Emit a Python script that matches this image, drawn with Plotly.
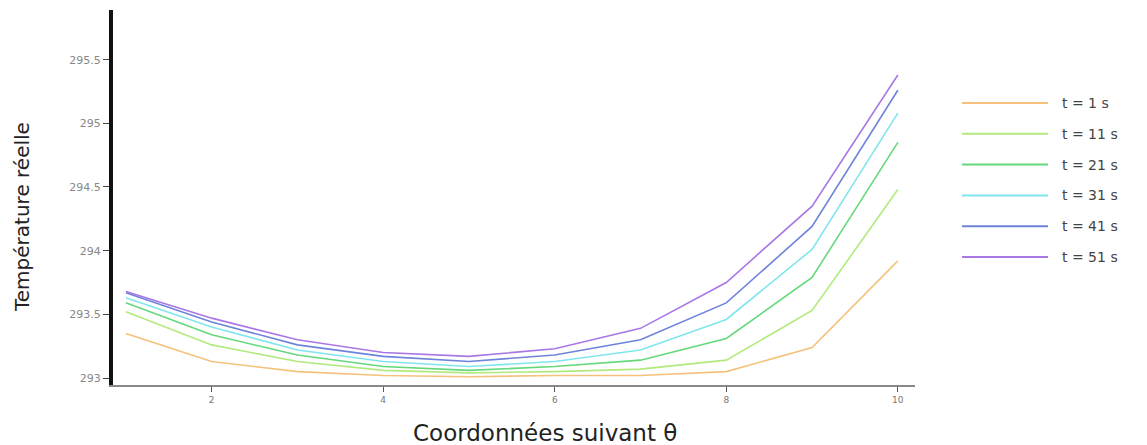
import plotly.graph_objects as go

x_coords = [1, 2, 3, 4, 5, 6, 7, 8, 9, 10]
series_names = ["t = 1 s", "t = 11 s", "t = 21 s", "t = 31 s", "t = 41 s", "t = 51 s"]
t1 = [293.35, 293.13, 293.05, 293.02, 293.01, 293.02, 293.02, 293.05, 293.24, 293.92]
t11 = [293.52, 293.26, 293.13, 293.06, 293.04, 293.05, 293.07, 293.14, 293.53, 294.48]
t21 = [293.59, 293.34, 293.18, 293.09, 293.06, 293.09, 293.14, 293.31, 293.79, 294.85]
t31 = [293.63, 293.40, 293.22, 293.13, 293.09, 293.13, 293.22, 293.46, 294.01, 295.08]
t41 = [293.67, 293.44, 293.26, 293.17, 293.13, 293.18, 293.30, 293.59, 294.19, 295.26]
t51 = [293.68, 293.47, 293.30, 293.20, 293.17, 293.23, 293.39, 293.75, 294.35, 295.38]
series_values = [t1, t11, t21, t31, t41, t51]
colors = ["#F5C27C", "#B2EA7E", "#66D87C", "#80E6EE", "#6E84DA", "#A977E6"]
y_ticks = [293, 293.5, 294, 294.5, 295, 295.5]
x_ticks = [2, 4, 6, 8, 10]

W, H = 1147, 445
ML, MR, MT, MB = 113, 232, 10, 60
PW, PH = W - ML - MR, H - MT - MB

fig = go.Figure()
for name, vals, c in zip(series_names, series_values, colors):
    fig.add_trace(go.Scatter(x=x_coords, y=vals, mode="lines", name=name,
                             line=dict(color=c, width=1.6), showlegend=False))

# custom legend (long line samples)
leg_y0 = (H - MB - 103) / PH
leg_dy = 30.8 / PH
for i, (name, c) in enumerate(zip(series_names, colors)):
    yy = leg_y0 - i * leg_dy
    fig.add_shape(type="line", xref="paper", yref="paper",
                  x0=(962 - ML) / PW, x1=(1048 - ML) / PW, y0=yy, y1=yy,
                  line=dict(color=c, width=2))
    fig.add_annotation(xref="paper", yref="paper", x=(1060 - ML) / PW, y=yy, text=name,
                       showarrow=False, xanchor="left", yanchor="middle",
                       font=dict(family="DejaVu Sans", size=14, color="#444444"))

# axis titles
fig.add_annotation(xref="paper", yref="paper", x=(545 - ML) / PW, y=(H - MB - 433) / PH,
                   text="Coordonnées suivant θ", showarrow=False,
                   xanchor="center", yanchor="middle",
                   font=dict(family="DejaVu Sans", size=23, color="#222222"))
fig.add_annotation(xref="paper", yref="paper", x=(22 - ML) / PW, y=(H - MB - 217) / PH,
                   text="Température réelle", showarrow=False, textangle=-90,
                   xanchor="center", yanchor="middle",
                   font=dict(family="DejaVu Sans", size=20, color="#222222"))

fig.update_layout(
    width=W, height=H,
    margin=dict(l=ML, r=MR, t=MT, b=MB),
    paper_bgcolor="white", plot_bgcolor="white",
    font=dict(family="DejaVu Sans", color="#333333"),
    xaxis=dict(range=[0.85, 10.2], tickvals=x_ticks, ticktext=[str(v) for v in x_ticks],
               automargin=False,
               showgrid=False, zeroline=False, showline=True, linecolor="#888888", linewidth=2,
               ticks="outside", ticklen=5, tickcolor="#555555", tickwidth=1,
               tickfont=dict(size=9, color="#777777")),
    yaxis=dict(range=[292.945, 295.89], tickvals=y_ticks, ticktext=[str(v) for v in y_ticks],
               automargin=False,
               showgrid=False, zeroline=False, showline=True, linecolor="#111111", linewidth=4,
               ticks="outside", ticklen=6, tickcolor="#444444", tickwidth=1,
               tickfont=dict(size=11, color="#888888")),
)

fig.write_html("out.html")
